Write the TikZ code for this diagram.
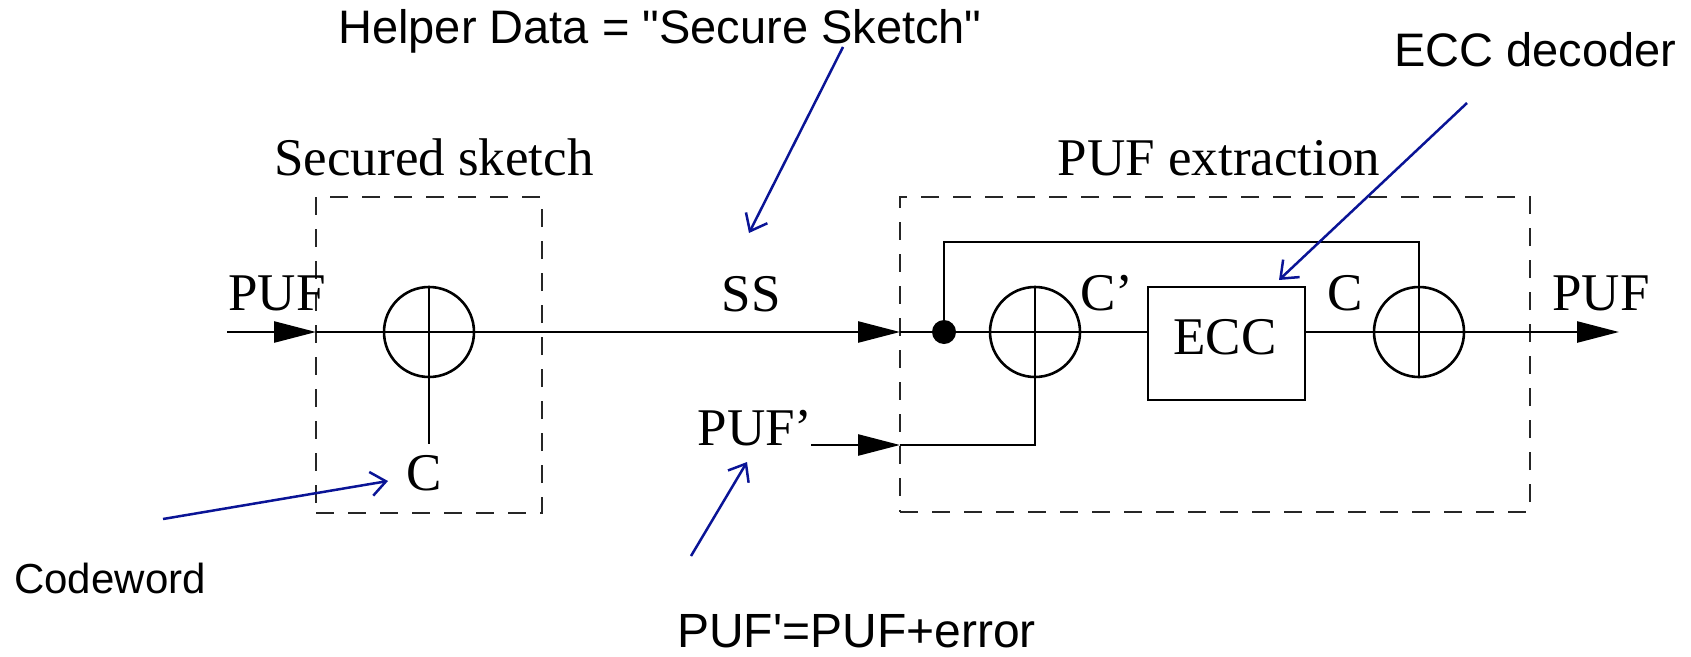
\documentclass[tikz,border=0pt]{standalone}
\usepackage{fontspec}
\setmainfont{Liberation Serif}
\newfontfamily\arial[Ligatures=TeXOff]{Liberation Sans}
\usetikzlibrary{arrows.meta,calc}
\definecolor{annot}{RGB}{10,20,150}
\begin{document}
\begin{tikzpicture}[x=1pt,y=-1pt,
  line width=2.6pt,
  lbl/.style={inner sep=0pt,anchor=base,font=\fontsize{53}{60}\selectfont},
  note/.style={inner sep=0pt,anchor=base west,font=\arial\fontsize{47}{54}\selectfont},
  xor/.style={circle,draw,minimum size=90pt,inner sep=0pt},
  jdot/.style={circle,fill,minimum size=24pt,inner sep=0pt},
  dashbox/.style={draw=black!85,dash pattern=on 18pt off 14pt,inner sep=0pt},
  eccbox/.style={draw,inner sep=0pt,minimum width=157pt,minimum height=113pt},
  tri/.style={-{Triangle[length=42pt,width=21pt]}},
  blue arrow/.style={draw=annot,line width=2.5pt,-{Straight Barb[length=15pt,width=24pt]}}]
\useasboundingbox (0,0) rectangle (1691,656);

% dashed boxes
\node[dashbox,minimum width=226pt,minimum height=316pt] (sk) at (429,355) {};
\node[dashbox,minimum width=630pt,minimum height=315pt] (ex) at (1215,354.5) {};

% components
\coordinate (inL) at (227,332);
\coordinate (skIn) at (316,332);
\node[xor] (x1) at (429,332) {};
\coordinate (c1) at (429,444);
\coordinate (exIn) at (900,332);
\node[jdot] (d) at (944,332) {};
\coordinate (fb) at (944,242);
\node[xor] (x2) at (1035,332) {};
\node[eccbox] (ecc) at (1226.5,343.5) {};
\node[xor] (x3) at (1419,332) {};
\coordinate (outR) at (1619,332);
\coordinate (pin) at (811,445);
\coordinate (pex) at (900,445);

% signal lines
\draw[tri] (inL) -- (skIn);
\draw (skIn) -- (x1.west) -- (x1.east);
\draw (x1.north) -- (x1.south) -- (c1);
\draw[tri] (x1.east) -- (exIn);
\draw (exIn) -- (d.center) -- (x2.west) -- (x2.east) -- (ecc.west |- d);
\draw (x2.north) -- (x2.south);
\draw (ecc.east |- d) -- (x3.west) -- (x3.east);
\draw (x3.north) -- (x3.south);
\draw[tri] (x3.east) -- (outR);
\draw (d.center) -- (fb) -| (x3.north);
\draw[tri] (pin) -- (pex);
\draw (pex) -| (x2.south);

% labels
\node[lbl] (tsk) at (434,175) {Secured sketch};
\node[lbl] (tex) at (1219,175) {PUF extraction};
\node[lbl] (tpufL) at (277,310) {PUF};
\node[lbl] (tss) at (751,311) {SS};
\node[lbl] (tpufp) at (755,445) {PUF’};
\node[lbl] (tc) at (424,490) {C};
\node[lbl] (tcp) at (1107,310) {C’};
\node[lbl] (tc2) at (1345,310) {C};
\node[lbl] (tecc) at (1225,354) {ECC};
\node[lbl] (tpufR) at (1601,310) {PUF};

% annotations
\node[note] (nhd) at (337,43) {Helper Data = "Secure Sketch"};
\node[note] (ned) at (1393,66) {ECC decoder};
\node[note,font=\arial\fontsize{42}{48}\selectfont] (ncw) at (13,593) {Codeword};
\node[note,font=\arial\fontsize{48}{54}\selectfont] (npe) at (676,647) {PUF'=PUF+error};

\coordinate (hd1) at (843,47);  \coordinate (hd2) at (749,233);
\coordinate (ed1) at (1467,103); \coordinate (ed2) at (1279,280);
\coordinate (cw1) at (163,519); \coordinate (cw2) at (388,481);
\coordinate (pe1) at (691,556); \coordinate (pe2) at (747,462);
\draw[blue arrow] (hd1) -- (hd2);
\draw[blue arrow] (ed1) -- (ed2);
\draw[blue arrow] (cw1) -- (cw2);
\draw[blue arrow] (pe1) -- (pe2);
\end{tikzpicture}
\end{document}
